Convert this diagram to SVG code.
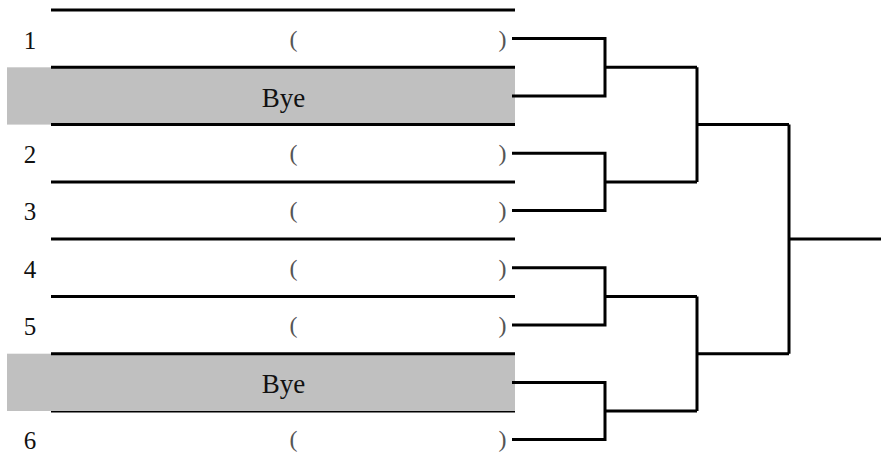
<svg xmlns="http://www.w3.org/2000/svg" width="881" height="470" viewBox="0 0 881 470">
<style>
.rule{stroke:#000;stroke-width:3;fill:none}
.bye{fill:#c0c0c0}
.t{font-family:"Liberation Serif","DejaVu Serif",serif;font-size:25px;fill:#111;text-anchor:middle}
.b{font-size:27px}
.p{font-family:"Liberation Serif","DejaVu Serif",serif;font-size:24px;fill:#555;text-anchor:middle}
.con{stroke:#000;stroke-width:3;fill:none;stroke-linejoin:miter}
</style>
<g id="rules">
<line class="rule" x1="51" y1="10" x2="515" y2="10"/>
<line class="rule" x1="51" y1="411" x2="515" y2="411"/>
</g>
<g id="row1">
<text class="t" x="30" y="49">1</text>
<text class="p" x="293.5" y="46.5">(</text>
<text class="p" x="502.5" y="46.5">)</text>
</g>
<g id="row2">
<rect class="bye" x="7" y="67.3" width="508" height="57.3"/>
<line class="rule" x1="51" y1="67.3" x2="515" y2="67.3"/>
<text class="t b" x="283.5" y="106.5">Bye</text>
</g>
<g id="row3">
<line class="rule" x1="51" y1="124.6" x2="515" y2="124.6"/>
<text class="t" x="30" y="163">2</text>
<text class="p" x="293.5" y="161">(</text>
<text class="p" x="502.5" y="161">)</text>
</g>
<g id="row4">
<line class="rule" x1="51" y1="181.9" x2="515" y2="181.9"/>
<text class="t" x="30" y="220.2">3</text>
<text class="p" x="293.5" y="218.2">(</text>
<text class="p" x="502.5" y="218.2">)</text>
</g>
<g id="row5">
<line class="rule" x1="51" y1="239.1" x2="515" y2="239.1"/>
<text class="t" x="30" y="277.5">4</text>
<text class="p" x="293.5" y="275.5">(</text>
<text class="p" x="502.5" y="275.5">)</text>
</g>
<g id="row6">
<line class="rule" x1="51" y1="296.4" x2="515" y2="296.4"/>
<text class="t" x="30" y="334.8">5</text>
<text class="p" x="293.5" y="332.8">(</text>
<text class="p" x="502.5" y="332.8">)</text>
</g>
<g id="row7">
<rect class="bye" x="7" y="353.7" width="508" height="57.3"/>
<line class="rule" x1="51" y1="353.7" x2="515" y2="353.7"/>
<text class="t b" x="283.5" y="392.9">Bye</text>
</g>
<g id="row8">
<text class="t" x="30" y="449.3">6</text>
<text class="p" x="293.5" y="447.3">(</text>
<text class="p" x="502.5" y="447.3">)</text>
</g>
<g id="connectors">
<path class="con" d="M512,38.6 H605 V96 H512 M605,67.3 H697"/>
<path class="con" d="M512,153.3 H605 V210.5 H512 M605,181.9 H697"/>
<path class="con" d="M512,267.8 H605 V325.1 H512 M605,296.4 H697"/>
<path class="con" d="M512,382.4 H605 V439.6 H512 M605,411 H697"/>
<path class="con" d="M697,67.3 V181.9 M697,124.6 H789"/>
<path class="con" d="M697,296.4 V411 M697,353.7 H789"/>
<path class="con" d="M789,124.6 V353.7 M789,239.1 H881"/>
</g>
</svg>
